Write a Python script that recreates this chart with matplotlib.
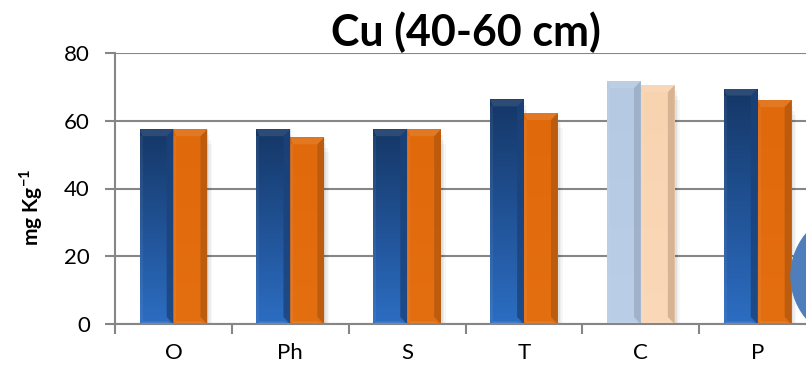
import matplotlib.pyplot as plt
import numpy as np
from matplotlib.patches import Polygon, Rectangle, Ellipse
from matplotlib.colors import LinearSegmentedColormap
from matplotlib.transforms import IdentityTransform

plt.rcParams['font.family'] = ['Lato', 'DejaVu Sans']
plt.rcParams['mathtext.fontset'] = 'custom'
plt.rcParams['mathtext.rm'] = 'Lato'
plt.rcParams['mathtext.bf'] = 'Lato:bold'

# Cu content at 40-60 cm depth
sites = ['O', 'Ph', 'S', 'T', 'C', 'P']
cu_first = [57.5, 57.5, 57.5, 66.3, 71.7, 69.5]
cu_second = [57.5, 55.1, 57.5, 62.3, 70.5, 66.1]

# (top, bottom, side) colours per bar; C is drawn in pale tones
blue = ('#153767', '#2C6DC2', '#1B427A')
orange = ('#E0690B', '#E46F10', '#B3580F')
blue_pale = ('#B5C9E2', '#BACEE7', '#9AABC2')
orange_pale = ('#F8D3B0', '#FAD8B8', '#CFAA8C')

fig = plt.figure(figsize=(8.06, 3.67), dpi=100)
ax = fig.add_axes([115 / 806, 43 / 367, 701 / 806, 271 / 367])

x = np.arange(len(sites))
w = 0.29
px_x = 1 / 116.8
px_y = 80 / 271


def fancy_bars(xpos, vals, colour_list):
    bars = ax.bar(xpos, vals, w, color='none', zorder=3)
    for b, (top, bot, side) in zip(bars, colour_list):
        x0, y0 = b.get_x(), b.get_y()
        bw, bh = b.get_width(), b.get_height()
        # soft shadow to the lower right
        for k, a in [(5, 0.03), (3.5, 0.04), (2, 0.05)]:
            ax.add_patch(Rectangle((x0 + k * px_x, y0 - k * px_y),
                                   bw, bh - 2 * k * px_y,
                                   color='k', alpha=a, lw=0, zorder=2))
        # vertical gradient body
        grad = np.linspace(0, 1, 100).reshape(-1, 1)
        cmap = LinearSegmentedColormap.from_list('g', [bot, top])
        im = ax.imshow(grad, extent=(x0, x0 + bw, y0, y0 + bh),
                       origin='lower', aspect='auto', cmap=cmap, zorder=3)
        im.set_clip_path(b)
        # bevelled edges
        sw = bw * 0.2
        cap = 7 * px_y
        ax.add_patch(Polygon([(x0 + bw - sw, y0 + cap),
                              (x0 + bw - sw, y0 + bh - cap),
                              (x0 + bw, y0 + bh), (x0 + bw, y0)],
                             closed=True, color=side, alpha=0.8, lw=0,
                             zorder=4))
        ax.add_patch(Polygon([(x0, y0 + bh), (x0 + bw, y0 + bh),
                              (x0 + bw - sw, y0 + bh - cap),
                              (x0 + 3 * px_x, y0 + bh - cap)],
                             closed=True, color='white', alpha=0.1, lw=0,
                             zorder=5))
        ax.add_patch(Polygon([(x0, y0), (x0 + bw, y0),
                              (x0 + bw - sw, y0 + 2.5 * px_y),
                              (x0 + 3 * px_x, y0 + 2.5 * px_y)],
                             closed=True, color='white', alpha=0.12, lw=0,
                             zorder=5))
        ax.add_patch(Rectangle((x0, y0 + 2.5 * px_y), 3 * px_x,
                               bh - cap - 2.5 * px_y,
                               color='white', alpha=0.06, lw=0, zorder=5))
    return bars


fancy_bars(x - w / 2, cu_first,
           [blue_pale if s == 'C' else blue for s in sites])
fancy_bars(x + w / 2, cu_second,
           [orange_pale if s == 'C' else orange for s in sites])

ax.set_xlim(-0.5, len(sites) - 0.5)
ax.set_ylim(0, 80)
ax.set_yticks([0, 20, 40, 60, 80])
ax.set_xticks(x)
ax.set_xticklabels(sites, fontsize=16)
ax.set_xticks(np.arange(-0.5, len(sites)), minor=True)
ax.tick_params(axis='x', which='major', length=0, pad=14)
ax.tick_params(axis='x', which='minor', length=7, width=1.5, color='#868686')
ax.tick_params(axis='y', length=7, width=1.5, color='#868686', pad=11,
               labelsize=16)
ax.grid(axis='y', color='#868686', lw=1.5, zorder=0)
ax.set_axisbelow(True)
for side in ['top', 'right']:
    ax.spines[side].set_visible(False)
for side in ['left', 'bottom']:
    ax.spines[side].set_color('#868686')
    ax.spines[side].set_linewidth(1.5)
    ax.spines[side].set_zorder(6)

ax.set_ylabel('mg Kg$^{\\mathbf{-1}}$', fontsize=15, fontweight='bold')
ax.yaxis.set_label_coords(-0.10, 0.43)
ax.set_title('Cu (40-60 cm)', fontsize=31, fontweight='bold', pad=2)

fig.add_artist(Ellipse((857, 367 - 276), 132, 132,
                       transform=IdentityTransform(),
                       color='#4E7FBC', zorder=10))

fig.savefig('out.png', dpi=100)
